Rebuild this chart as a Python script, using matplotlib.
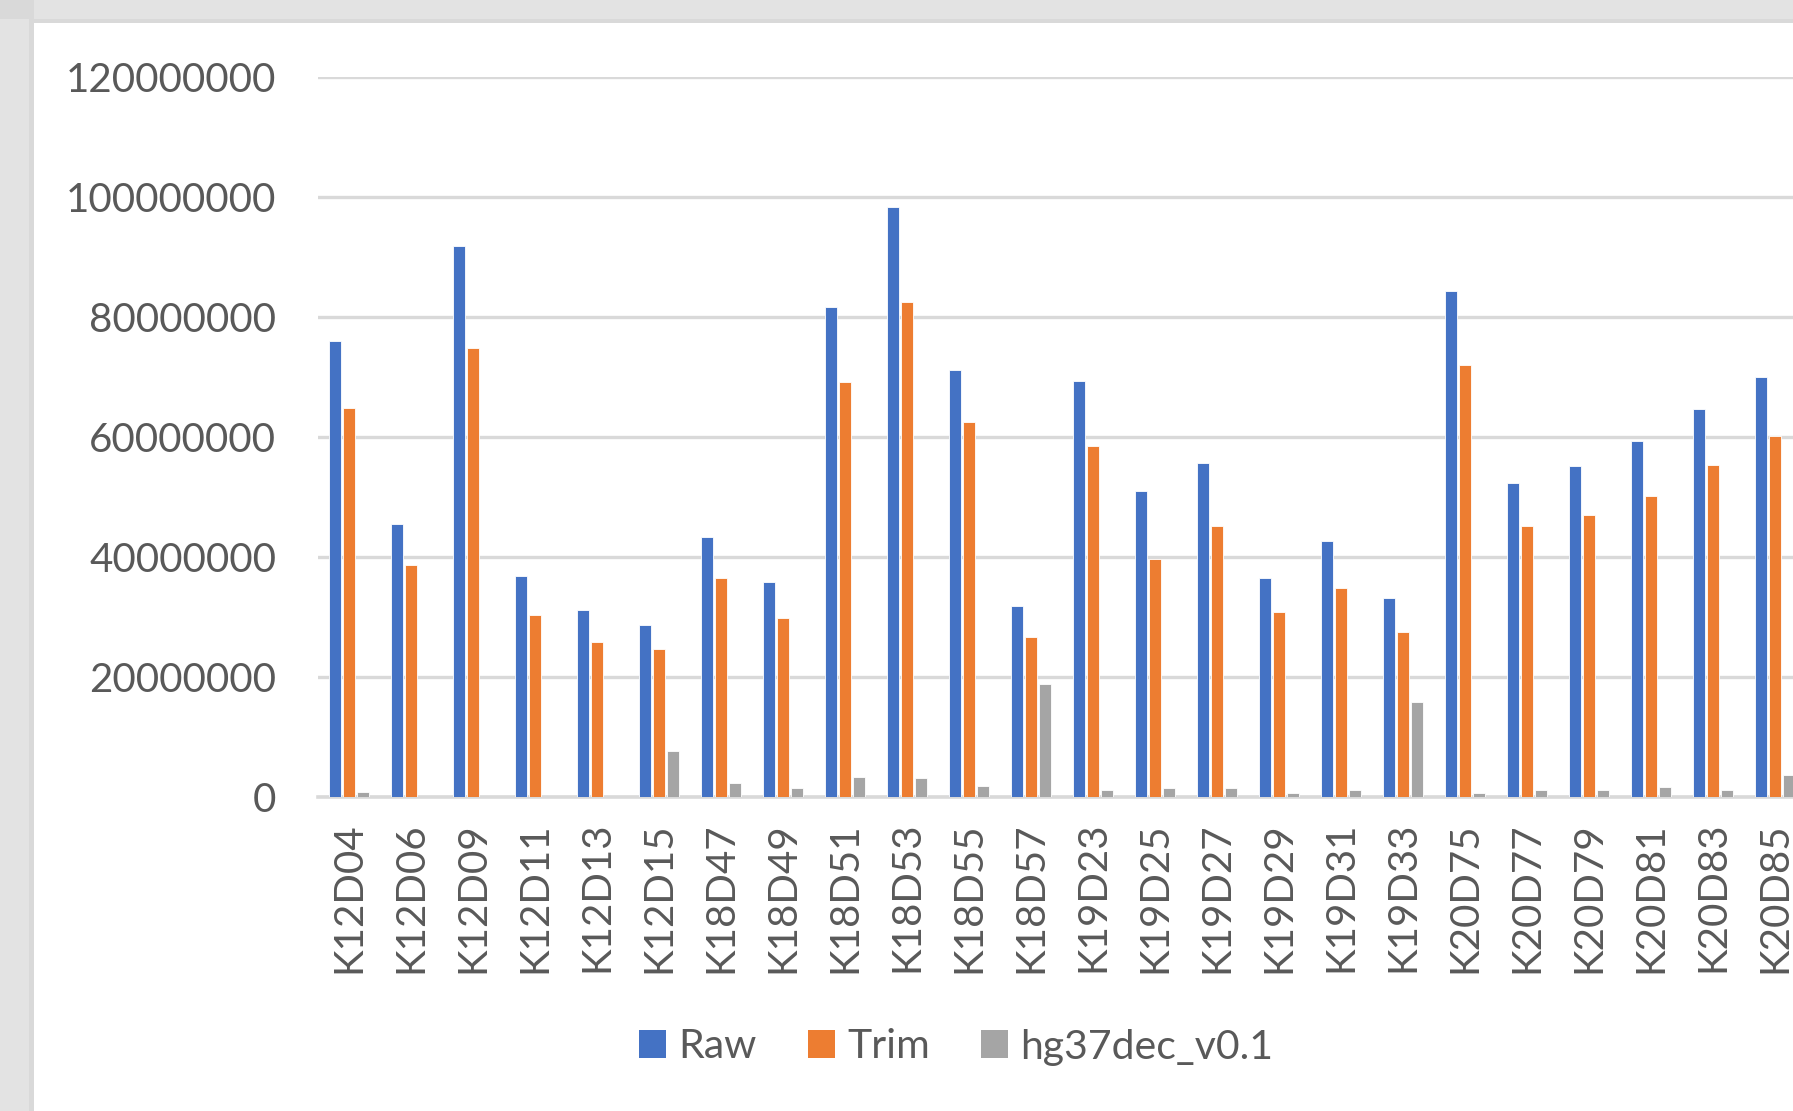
import numpy as np
import matplotlib
matplotlib.use("Agg")
import matplotlib.pyplot as plt
from matplotlib.patches import Rectangle, Patch

plt.rcParams['font.family'] = ['Lato', 'DejaVu Sans']

# Sample read counts
samples = ["K12D04", "K12D06", "K12D09", "K12D11", "K12D13", "K12D15",
           "K18D47", "K18D49", "K18D51", "K18D53", "K18D55", "K18D57",
           "K19D23", "K19D25", "K19D27", "K19D29", "K19D31", "K19D33",
           "K20D75", "K20D77", "K20D79", "K20D81", "K20D83", "K20D85"]
raw = [76.0, 45.5, 91.9, 36.9, 31.1, 28.7,
       43.4, 35.9, 81.6, 98.4, 71.1, 31.9,
       69.3, 51.0, 55.6, 36.5, 42.6, 33.2,
       84.4, 52.3, 55.2, 59.4, 64.7, 70.0]
trim = [64.9, 38.6, 74.9, 30.4, 25.8, 24.6,
        36.5, 29.8, 69.1, 82.5, 62.5, 26.7,
        58.5, 39.7, 45.1, 30.8, 34.8, 27.5,
        72.0, 45.1, 47.0, 50.2, 55.3, 60.2]
hg37 = [0.8, 0.0, 0.0, 0.0, 0.0, 7.6,
        2.3, 1.5, 3.4, 3.1, 1.9, 18.9,
        1.1, 1.5, 1.5, 0.7, 1.1, 15.9,
        0.7, 1.1, 1.1, 1.6, 1.2, 3.6]
series_names = ["Raw", "Trim", "hg37dec_v0.1"]
series_colors = ["#4472C4", "#ED7D31", "#A5A5A5"]
y_ticks = [0, 20000000, 40000000, 60000000, 80000000, 100000000, 120000000]
y_tick_labels = ["0", "20000000", "40000000", "60000000", "80000000",
                 "100000000", "120000000"]

W, H = 1793, 1111
fig = plt.figure(figsize=(W / 100, H / 100), dpi=100)
fig.patch.set_facecolor("white")

# Window frame around the chart area
fig.patches.append(Rectangle((0, 1 - 23 / H), 1, 23 / H, transform=fig.transFigure,
                             facecolor="#d9d9d9", edgecolor="none", zorder=0))
fig.patches.append(Rectangle((0, 1 - 19 / H), 1, 19 / H, transform=fig.transFigure,
                             facecolor="#e3e3e3", edgecolor="none", zorder=0))
fig.patches.append(Rectangle((0, 0), 34 / W, 1, transform=fig.transFigure,
                             facecolor="#d9d9d9", edgecolor="none", zorder=0))
fig.patches.append(Rectangle((0, 0), 29 / W, 1 - 19 / H, transform=fig.transFigure,
                             facecolor="#e3e3e3", edgecolor="none", zorder=0))

cat_px = 62.0
n_visible = 26
ax = fig.add_axes([318 / W, 1 - 797 / H, n_visible * cat_px / W, 720 / H])
ax.set_facecolor("none")

x = np.arange(len(samples))
bar_w = 0.185
step = 0.226
scale = 1e6
for i, (vals, col) in enumerate(zip([raw, trim, hg37], series_colors)):
    ax.bar(x + (i - 1) * step, np.array(vals) * scale, width=bar_w, color=col,
           edgecolor="white", linewidth=0.6, zorder=3)

ax.set_xlim(-0.5, n_visible - 0.5)
ax.set_ylim(0, 120000000)
ax.set_yticks(y_ticks)
ax.set_yticklabels(y_tick_labels)
ax.set_xticks(x)
ax.set_xticklabels(samples, rotation=90)

ax.yaxis.grid(True, color="#d9d9d9", linewidth=2.4, zorder=0)
ax.set_axisbelow(True)
for s in ["top", "right", "left"]:
    ax.spines[s].set_visible(False)
ax.spines["bottom"].set_color("#d9d9d9")
ax.spines["bottom"].set_linewidth(2.6)
ax.spines["bottom"].set_zorder(2)

ax.tick_params(axis="both", length=0, colors="#595959", labelsize=29)
ax.tick_params(axis="y", pad=30)
ax.tick_params(axis="x", pad=18)

handles = [Patch(facecolor=c, edgecolor="none") for c in series_colors]
fig.legend(handles, series_names, loc="center",
           bbox_to_anchor=(956 / W, 1 - 1047 / H), ncol=3, frameon=False,
           fontsize=29.5, labelcolor="#595959", handlelength=0.66,
           handleheight=0.66, handletextpad=0.3, columnspacing=1.25)

fig.savefig("out.png", dpi=100)
